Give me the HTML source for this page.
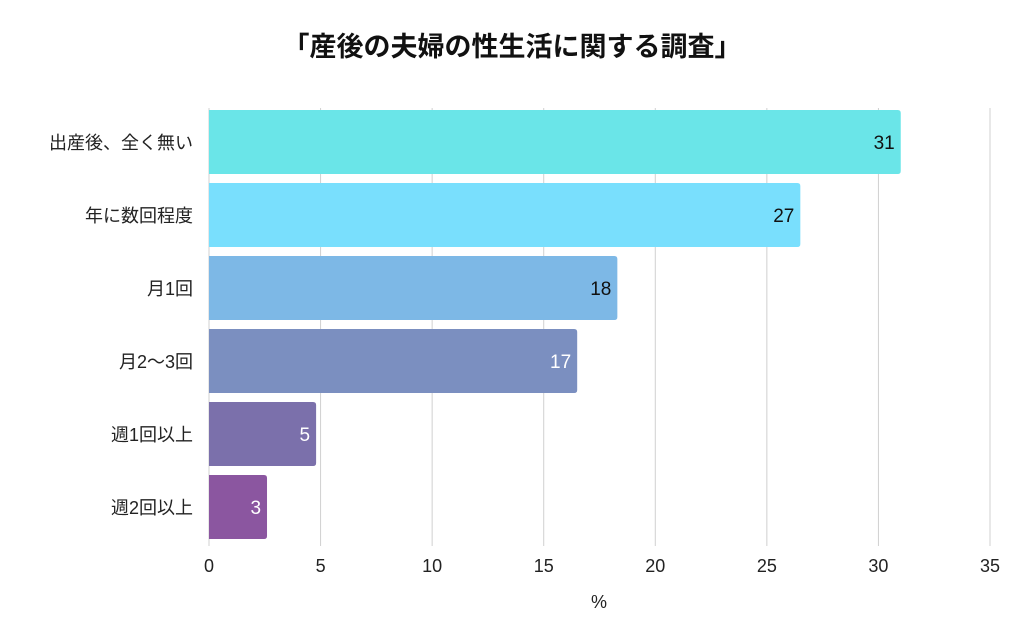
<!DOCTYPE html>
<html><head><meta charset="utf-8">
<style>
html,body{margin:0;padding:0;background:#fff;width:1024px;height:633px;overflow:hidden}
svg{display:block;font-family:"Liberation Sans","Noto Sans CJK JP",sans-serif}
</style></head>
<body>
<svg id="chart" width="1024" height="633">
<text x="512" y="56" text-anchor="middle" font-size="27" font-weight="bold" fill="#111">「産後の夫婦の性生活に関する調査」</text>
<g id="grid"></g><g id="bars"></g><g id="xticks"></g><g id="ylabels"></g>
<text x="599" y="608" text-anchor="middle" font-size="18" fill="#222">%</text>
</svg>
<script>
const categories=["出産後、全く無い","年に数回程度","月1回","月2〜3回","週1回以上","週2回以上"];
const values=[31,26.5,18.3,16.5,4.8,2.6];
const tickValues=[0,5,10,15,20,25,30,35];
const colors=["#6ae5e8","#79dffd","#7db8e6","#7b8fc0","#7b70ab","#8b56a0"];
const labelColors=["#111","#111","#111","#fff","#fff","#fff"];
const NS="http://www.w3.org/2000/svg";
const x0=209,x1=990,xMax=35,plotTop=108,plotBottom=546;
const xs=v=>x0+(v/xMax)*(x1-x0);
const band=(plotBottom-plotTop)/categories.length;
function mk(t,a,p){const e=document.createElementNS(NS,t);for(const k in a)e.setAttribute(k,a[k]);p.appendChild(e);return e;}
const grid=document.getElementById('grid'),bars=document.getElementById('bars'),xt=document.getElementById('xticks'),yl=document.getElementById('ylabels');
tickValues.forEach(t=>{
  const l=mk('line',{x1:xs(t),x2:xs(t),y1:plotTop,y2:plotBottom,stroke:'#d0d0d0','stroke-width':1},grid);
  
  
  const tx=mk('text',{x:xs(t),y:572,'text-anchor':'middle','font-size':18,fill:'#222'},xt);
  tx.textContent=t;
  
  
});
categories.forEach((c,i)=>{
  const y=plotTop+i*band+2, h=band-9;
  const w=xs(values[i])-x0;
  const r=mk('path',{d:`M${x0},${y}H${x0+w-3}Q${x0+w},${y} ${x0+w},${y+3}V${y+h-3}Q${x0+w},${y+h} ${x0+w-3},${y+h}H${x0}Z`,fill:colors[i]},bars);
  
  
  const v=mk('text',{x:x0+w-6,y:y+h/2+7,'text-anchor':'end','font-size':19,fill:labelColors[i]},bars);
  v.textContent=Math.round(values[i]);
  
  
  const t=mk('text',{x:193,y:y+h/2+7,'text-anchor':'end','font-size':18,fill:'#222'},yl);
  t.textContent=c;
  
  
});
</script>
</body></html>
